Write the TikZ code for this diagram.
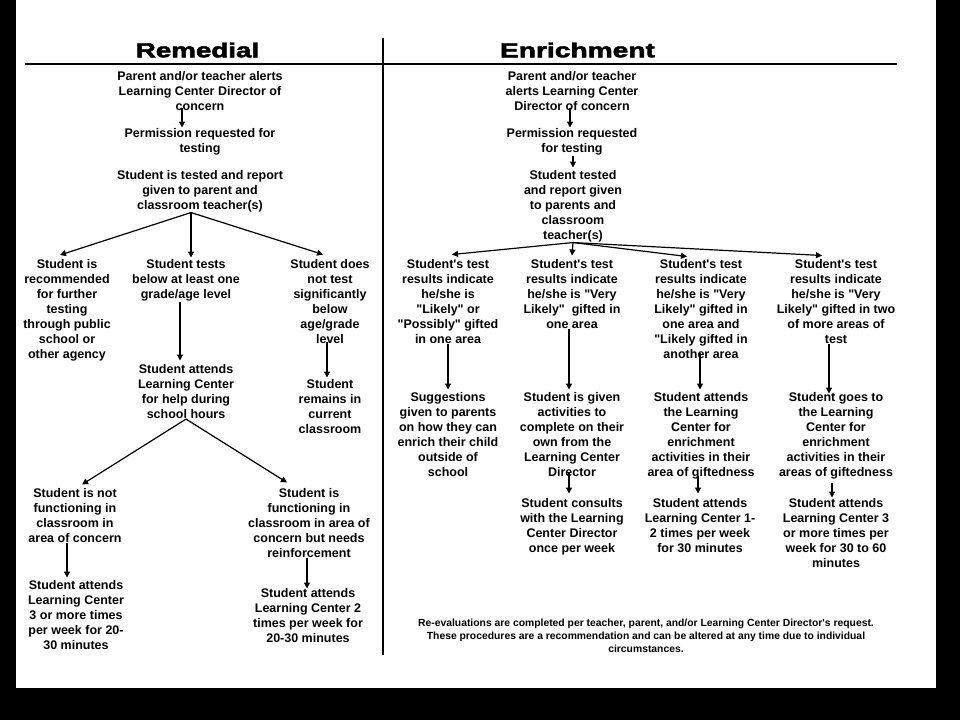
\documentclass[tikz,border=0pt]{standalone}
\usepackage{fontspec}
\setmainfont{Liberation Sans}
\newfontfamily\bodyfont{Liberation Sans}
\newfontfamily\ttlfont[FakeBold=2.2]{Liberation Sans Bold}
\usepackage{graphicx}
\usetikzlibrary{arrows.meta}
\begin{document}
\begin{tikzpicture}[x=1pt,y=-1pt,
  txt/.style={font=\bodyfont\fontsize{12.5}{15}\selectfont\bfseries, align=center, inner sep=0pt, anchor=north},
  note/.style={font=\bodyfont\fontsize{10.35}{13}\selectfont\bfseries, align=center, inner sep=0pt, anchor=north},
  ttl/.style={font=\ttlfont\fontsize{20.4}{24}\selectfont, anchor=base, inner sep=0pt},
  arr/.style={line width=1.2pt, -{Triangle[length=6pt,width=6pt]}}]
\fill[black] (0,0) rectangle (960,720);
\fill[white] (16,0) rectangle (936,688);
\useasboundingbox (0,0) rectangle (960,720);

% titles and rules
\node[ttl] (tR) at (197.5,57.3) {\scalebox{1.36}[1]{Remedial}};
\node[ttl] (tE) at (577.5,57.3) {\scalebox{1.38}[1]{Enrichment}};
\coordinate (hl) at (25,64);
\coordinate (hr) at (897,64);
\draw[line width=2.5pt] (hl) -- (hr);
\coordinate (vt) at (383,38);
\coordinate (vb) at (383,655);
\draw[line width=1.3pt] (vt) -- (vb);

% Remedial
\node[txt] (R1) at (200,71.5) {Parent and/or teacher alerts\\Learning Center Director of\\concern};
\node[txt] (R2) at (200,128.5) {Permission requested for\\testing};
\node[txt] (R3) at (200,170.5) {Student is tested and report\\given to parent and\\classroom teacher(s)};
\node[txt] (R4) at (67,259.5) {Student is\\recommended\\for further\\testing\\through public\\school or\\other agency};
\node[txt] (R5) at (186,259.5) {Student tests\\below at least one\\grade/age level};
\node[txt] (R6) at (330,259.5) {Student does\\not test\\significantly\\below\\age/grade\\level};
\node[txt] (R7) at (186,364.5) {Student attends\\Learning Center\\for help during\\school hours};
\node[txt] (R8) at (330,379.5) {Student\\remains in\\current\\classroom};
\node[txt] (R9) at (75,488.5) {Student is not\\functioning in\\classroom in\\area of concern};
\node[txt] (R10) at (309,488.5) {Student is\\functioning in\\classroom in area of\\concern but needs\\reinforcement};
\node[txt] (R11) at (76,580.5) {Student attends\\Learning Center\\3 or more times\\per week for 20-\\30 minutes};
\node[txt] (R12) at (308,588.5) {Student attends\\Learning Center 2\\times per week for\\20-30 minutes};

% Enrichment
\node[txt] (E1) at (572,71.5) {Parent and/or teacher\\alerts Learning Center\\Director of concern};
\node[txt] (E2) at (572,128.5) {Permission requested\\for testing};
\node[txt] (E3) at (573,170.5) {Student tested\\and report given\\to parents and\\classroom\\teacher(s)};
\node[txt] (E4) at (448,259.5) {Student's test\\results indicate\\he/she is\\"Likely" or\\"Possibly" gifted\\in one area};
\node[txt] (E5) at (572,259.5) {Student's test\\results indicate\\he/she is "Very\\Likely"\ \ gifted in\\one area};
\node[txt] (E6) at (701,259.5) {Student's test\\results indicate\\he/she is "Very\\Likely" gifted in\\one area and\\"Likely gifted in\\another area};
\node[txt] (E7) at (836,259.5) {Student's test\\results indicate\\he/she is "Very\\Likely" gifted in two\\of more areas of\\test};
\node[txt] (E8) at (448,392.5) {Suggestions\\given to parents\\on how they can\\enrich their child\\outside of\\school};
\node[txt] (E9) at (572,392.5) {Student is given\\activities to\\complete on their\\own from the\\Learning Center\\Director};
\node[txt] (E10) at (701,392.5) {Student attends\\the Learning\\Center for\\enrichment\\activities in their\\area of giftedness};
\node[txt] (E11) at (836,392.5) {Student goes to\\the Learning\\Center for\\enrichment\\activities in their\\areas of giftedness};
\node[txt] (E12) at (572,498.5) {Student consults\\with the Learning\\Center Director\\once per week};
\node[txt] (E13) at (700,498.5) {Student attends\\Learning Center 1-\\2 times per week\\for 30 minutes};
\node[txt] (E14) at (836,498.5) {Student attends\\Learning Center 3\\or more times per\\week for 30 to 60\\minutes};

\node[note] (N) at (646,618.3) {Re-evaluations are completed per teacher, parent, and/or Learning Center Director's request.\\These procedures are a recommendation and can be altered at any time due to individual\\circumstances.};

% Remedial connectors
\draw[arr] ([xshift=-18pt,yshift=3pt]R1.south) -- ([xshift=-18pt,yshift=1pt]R2.north);
\draw[arr] ([xshift=-9pt]R3.south) -- ([xshift=-7pt,yshift=4.5pt]R4.north);
\draw[arr] ([xshift=-9pt]R3.south) -- ([xshift=5pt,yshift=2pt]R5.north);
\draw[arr] ([xshift=-9pt]R3.south) -- ([xshift=-7pt,yshift=5pt]R6.north);
\draw[arr] ([xshift=-6pt]R5.south) -- ([xshift=-6pt,yshift=4pt]R7.north);
\draw[arr] ([xshift=-3pt,yshift=2pt]R6.south) -- ([xshift=-3pt,yshift=2pt]R8.north);
\draw[arr] (R7.south) -- ([xshift=7pt,yshift=4pt]R9.north);
\draw[arr] (R7.south) -- ([xshift=-22pt,yshift=6pt]R10.north);
\draw[arr] ([xshift=-8pt]R9.south) -- ([xshift=-9pt,yshift=3pt]R11.north);
\draw[arr] ([xshift=-2pt]R10.south) -- ([xshift=-1pt]R12.north);

% Enrichment connectors
\draw[arr] ([xshift=-2pt,yshift=3pt]E1.south) -- ([xshift=-2pt,yshift=1pt]E2.north);
\draw[arr] ([xshift=1pt]E2.south) -- ([xshift=0pt,yshift=3pt]E3.north);
\draw[arr] (E3.south) -- ([xshift=4pt,yshift=5pt]E4.north);
\draw[arr] (E3.south) -- ([yshift=4pt]E5.north);
\draw[arr] (E3.south) -- ([xshift=-14pt,yshift=3pt]E6.north);
\draw[arr] (E3.south) -- ([xshift=-14pt,yshift=4pt]E7.north);
\draw[arr] (E4.south) -- ([yshift=3pt]E8.north);
\draw[arr] ([xshift=-3pt]E5.south) -- ([xshift=-3pt,yshift=3pt]E9.north);
\draw[arr] ([xshift=-1pt,yshift=6pt]E6.south) -- ([xshift=-1pt,yshift=3pt]E10.north);
\draw[arr] ([xshift=-7pt]E7.south) -- ([xshift=-7pt,yshift=-1pt]E11.north);
\draw[arr] ([xshift=-3pt,yshift=4pt]E9.south) -- ([xshift=-3pt,yshift=5pt]E12.north);
\draw[arr] ([xshift=-3pt,yshift=4pt]E10.south) -- ([xshift=-2pt,yshift=5pt]E13.north);
\draw[arr] ([xshift=-4pt,yshift=-3pt]E11.south) -- ([xshift=-4pt,yshift=1pt]E14.north);
\end{tikzpicture}
\end{document}
